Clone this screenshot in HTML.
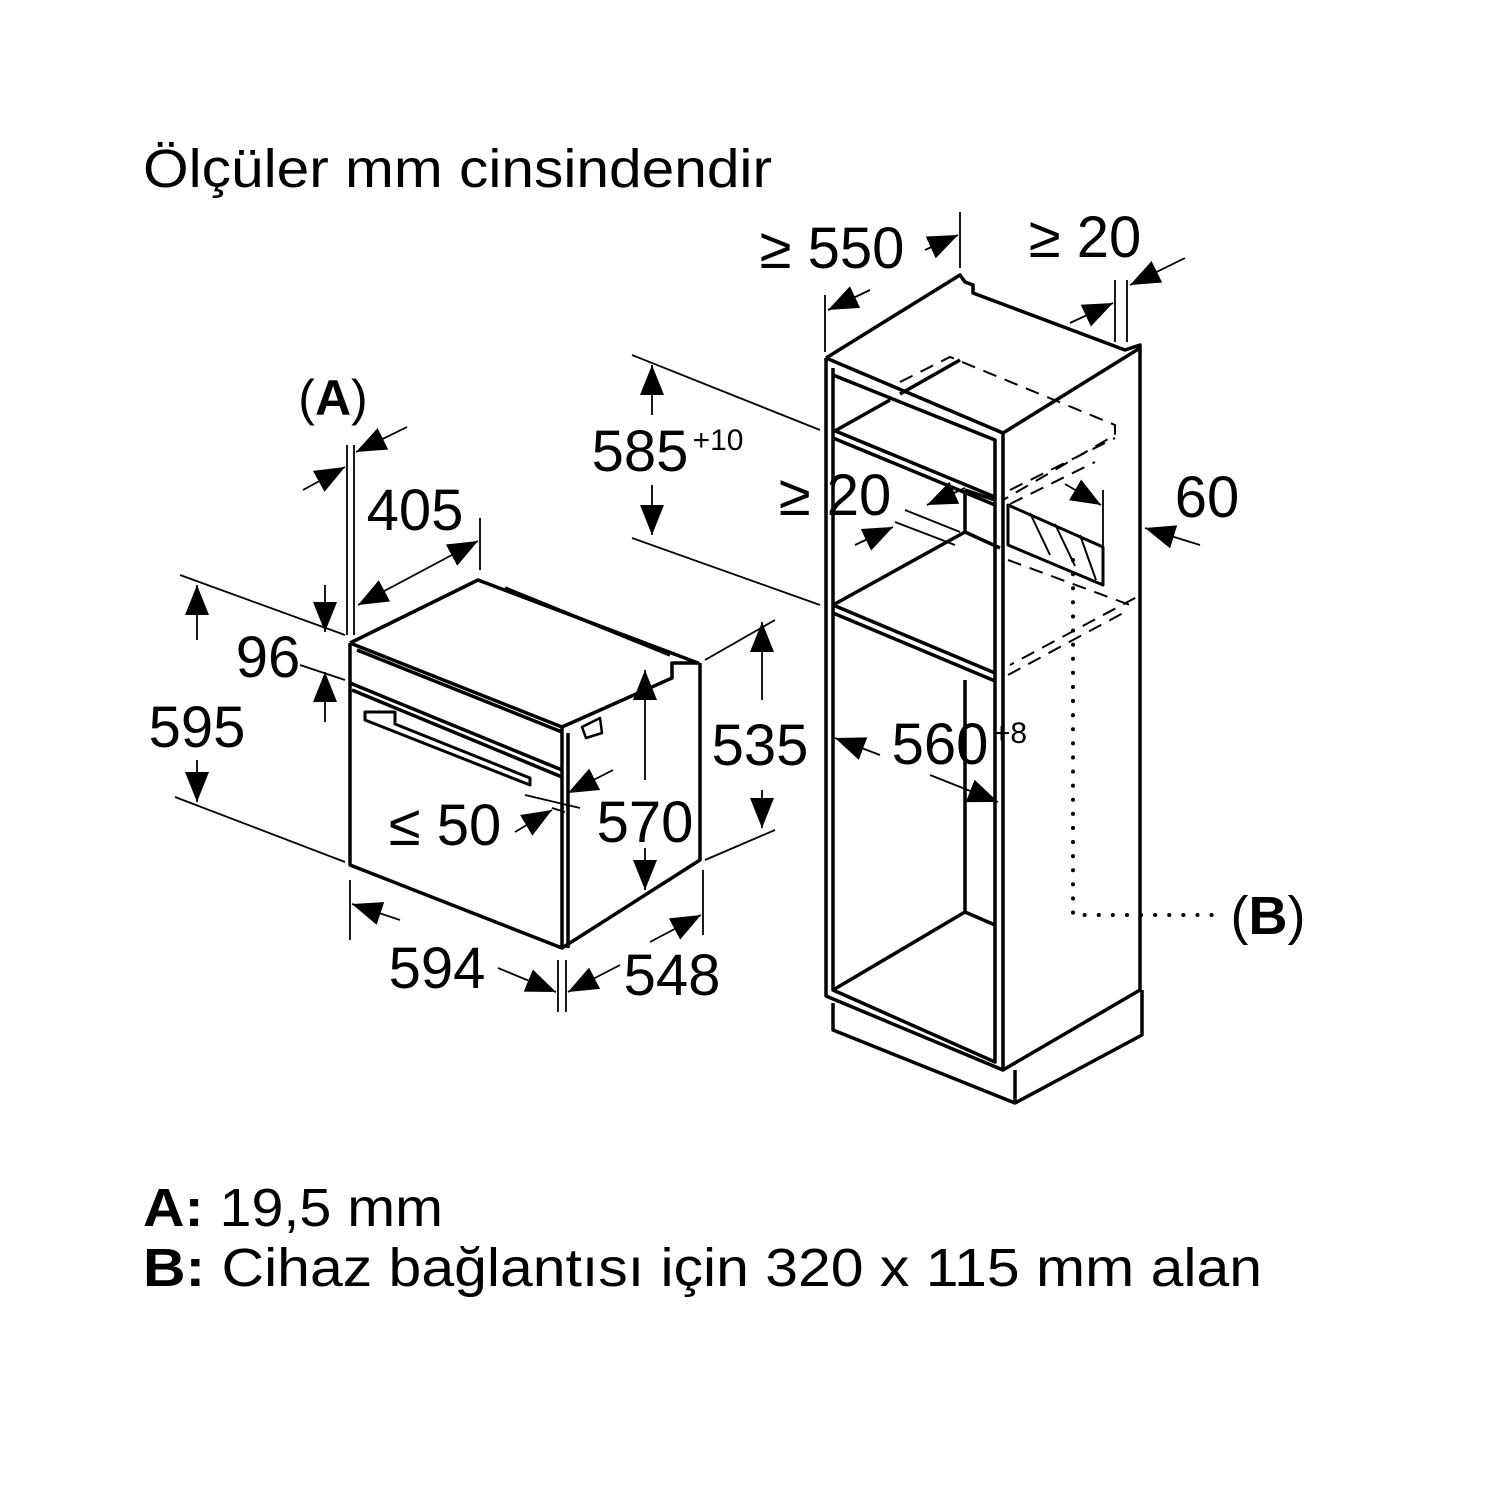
<!DOCTYPE html>
<html><head><meta charset="utf-8"><style>
html,body{margin:0;padding:0;background:#fff}
svg{display:block}
text{font-family:"Liberation Sans",sans-serif;fill:#000}
</style></head><body>
<svg width="1500" height="1500" viewBox="0 0 1500 1500" xmlns="http://www.w3.org/2000/svg">
<defs>
<marker id="ar" viewBox="0 0 10 10" refX="10" refY="5" markerWidth="30" markerHeight="30" markerUnits="userSpaceOnUse" orient="auto">
<path d="M0,1 L10,5 L0,9 z" fill="#000"/></marker>
</defs>
<text x="143" y="187" font-size="54" textLength="629" lengthAdjust="spacingAndGlyphs">Ölçüler mm cinsindendir</text>

<g stroke="#000" fill="none" stroke-width="3.5" stroke-linejoin="round">
<path d="M350,643 L350,865 L562,948 L562,727 L350,643"/>
<path d="M562,948 L700,860 L700,663"/>
<path d="M350,643 L478,580 L698,663 L672,663 L672,678 L562,727"/>
<path d="M357,650 L562,732"/>
<path d="M505,588 L670,655"/>
<path d="M350,683 L562,770"/>
<path d="M352,690 L562,777"/>
<path d="M568,733 L568,948"/>
<path d="M365,712 L395,712 L395,724 L530,778 L530,785 L365,720 Z" stroke-width="3"/>
<path d="M582,727 L600,718 L602,733 L586,738 Z" stroke-width="2.5"/>

<path d="M826,358 L960,275 L965,282 L973,285 L973,293 L1125,350 L1140,345 L1140,990 L1003,1070 L1003,433 L826,358"/>
<path d="M1003,433 L1140,348"/>
<path d="M826,358 L826,996 L1003,1070"/>
<path d="M833,368 L833,990 L995,1062 L995,440 L833,375"/>
<path d="M833,430 L995,497 M833,438 L995,505"/>
<path d="M833,432 L890,400 M900,394 L960,360"/>
<path d="M833,605 L995,673 M833,613 L995,681"/>
<path d="M833,605 L965,532 L965,490 M965,532 L1000,548"/>
<path d="M965,490 L995,500"/>
<path d="M965,680 L965,912 M833,990 L965,912 L995,925"/>
<path d="M833,1003 L833,1030 L1015,1103 L1142,1035 L1142,990 M1015,1070 L1015,1103"/>
<path d="M1008,505 L1103,547 L1103,585 L1008,545 Z" stroke-width="3"/>
</g>
<g stroke="#000" stroke-width="2">
<path d="M1030,513 L1050,555 M1055,524 L1075,566 M1080,535 L1096,580"/>
</g>
<g stroke="#000" stroke-width="2" fill="none" stroke-dasharray="14,9">
<path d="M900,382 L950,357 L1115,425 L1115,435 L1003,500"/>
<path d="M1010,490 L1115,438 M1010,504 L1095,462"/>
<path d="M1008,560 L1130,605 L1135,598 L1010,665"/>
<path d="M1008,675 L1125,612"/>
</g>
<path d="M1073,560 L1073,915 L1220,915" stroke="#000" stroke-width="4" stroke-dasharray="0.1,14" stroke-linecap="round" fill="none"/>

<g stroke="#000" stroke-width="1.8" fill="none">
<path d="M180,575 L345,635 M175,797 L345,862" />
<path d="M300,665 L345,680"/>
<path d="M347,445 L347,635 M354,445 L354,635"/>
<path d="M480,518 L480,570"/>
<path d="M705,660 L775,620 M705,860 L775,830"/>
<path d="M350,880 L350,940 M558,960 L558,1012 M566,960 L566,1012 M703,870 L703,935"/>
<path d="M825,295 L825,352 M960,212 L960,268"/>
<path d="M1115,280 L1115,342 M1127,280 L1127,342"/>
<path d="M632,355 L820,430 M632,538 L820,605"/>
<path d="M1103,490 L1103,555"/>
<path d="M525,795 L580,808 M552,808 L565,812"/>
<path d="M905,510 L960,532 M895,522 L955,545"/>
</g>
<g stroke="#000" stroke-width="1.8" fill="none" marker-end="url(#ar)">
<path d="M197,640 L197,585"/><path d="M197,760 L197,802"/>
<path d="M325,585 L325,632"/><path d="M325,722 L325,672"/>
<path d="M303,490 L345,467"/><path d="M407,427 L356,452"/>
<path d="M420,572 L358,605"/><path d="M420,572 L478,541"/>
<path d="M762,700 L762,622"/><path d="M762,790 L762,828"/>
<path d="M645,780 L645,670"/><path d="M645,848 L645,890"/>
<path d="M515,832 L552,810"/><path d="M613,770 L568,793"/>
<path d="M400,920 L352,904"/><path d="M498,968 L556,992"/>
<path d="M620,965 L568,992"/><path d="M650,942 L701,915"/>
<path d="M870,290 L828,310"/><path d="M925,250 L958,235"/>
<path d="M1070,323 L1113,303"/><path d="M1185,258 L1130,285"/>
<path d="M652,415 L652,365"/><path d="M652,485 L652,535"/>
<path d="M855,545 L893,527"/><path d="M965,488 L927,505"/>
<path d="M1200,545 L1145,528"/><path d="M1065,484 L1101,505"/>
<path d="M880,755 L835,738"/><path d="M930,775 L998,802"/>
</g>

<g font-size="58">
<text x="197" y="747" text-anchor="middle">595</text>
<text x="268" y="677" text-anchor="middle">96</text>
<text x="415" y="530" text-anchor="middle">405</text>
<text x="760" y="765" text-anchor="middle">535</text>
<text x="645" y="842" text-anchor="middle">570</text>
<text x="445" y="845" text-anchor="middle">≤ 50</text>
<text x="437" y="988" text-anchor="middle">594</text>
<text x="672" y="995" text-anchor="middle">548</text>
<text x="832" y="268" text-anchor="middle">≥ 550</text>
<text x="1085" y="257" text-anchor="middle">≥ 20</text>
<text x="640" y="471" text-anchor="middle">585</text>
<text x="835" y="515" text-anchor="middle">≥ 20</text>
<text x="1207" y="517" text-anchor="middle">60</text>
<text x="940" y="764" text-anchor="middle">560</text>
</g>
<text x="718" y="450" font-size="30" text-anchor="middle">+10</text>
<text x="1010" y="743" font-size="30" text-anchor="middle">+8</text>
<text x="333" y="415" font-size="50" text-anchor="middle">(<tspan font-weight="bold">A</tspan>)</text>
<text x="1268" y="934" font-size="54" text-anchor="middle">(<tspan font-weight="bold">B</tspan>)</text>

<text x="143" y="1226" font-size="54" textLength="300" lengthAdjust="spacingAndGlyphs"><tspan font-weight="bold">A:</tspan> 19,5 mm</text>
<text x="143" y="1286" font-size="54" textLength="1119" lengthAdjust="spacingAndGlyphs"><tspan font-weight="bold">B:</tspan> Cihaz bağlantısı için 320 x 115 mm alan</text>
</svg>
</body></html>
